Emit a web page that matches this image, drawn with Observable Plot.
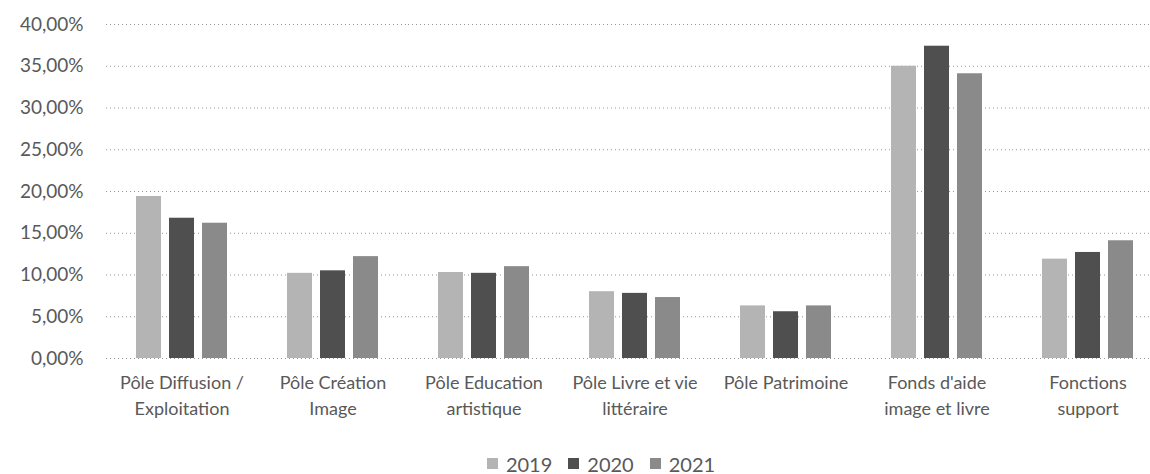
<!DOCTYPE html>
<html>
<head>
<meta charset="utf-8">
<script src="https://cdn.jsdelivr.net/npm/d3@7"></script>
<script src="https://cdn.jsdelivr.net/npm/@observablehq/plot@0.6"></script>
<style>
  html, body { margin: 0; padding: 0; background: white; }
  #chart svg { display: block; }
  .legend { display: flex; justify-content: center; align-items: center; font-family: Lato, "Open Sans", sans-serif; font-size: 20px; color: #595959; height: 29px; padding-left: 52px; padding-top: 4px; }
  .legend span.item { display: inline-flex; align-items: center; margin: 0 8px; }
  .legend span.sw { width: 11px; height: 11px; display: inline-block; margin-right: 8px; }
</style>
</head>
<body>
<div id="chart"></div>
<script>
const categories = ["Diffusion", "Creation", "Education", "Livre", "Patrimoine", "Fonds", "Support"];
const categoryLabels = [
  "Pôle Diffusion /\nExploitation",
  "Pôle Création\nImage",
  "Pôle Education\nartistique",
  "Pôle Livre et vie\nlittéraire",
  "Pôle Patrimoine",
  "Fonds d'aide\nimage et livre",
  "Fonctions\nsupport"
];
const years = ["2019", "2020", "2021"];
const values2019 = [19.4, 10.2, 10.3, 8.0, 6.3, 35.0, 11.9];
const values2020 = [16.8, 10.5, 10.2, 7.8, 5.6, 37.4, 12.7];
const values2021 = [16.2, 12.2, 11.0, 7.3, 6.3, 34.1, 14.1];
const yTicks = [0, 5, 10, 15, 20, 25, 30, 35, 40];
const yearColors = ["#b4b4b4", "#4f4f4f", "#8a8a8a"];

const series = [values2019, values2020, values2021];
const data = [];
categories.forEach((c, i) => {
  years.forEach((y, j) => data.push({category: c, year: y, value: series[j][i]}));
});
const labelOf = new Map(categories.map((c, i) => [c, categoryLabels[i]]));
const pct = d => d.toFixed(2).replace(".", ",") + "%";

const chart = Plot.plot({
  width: 1150,
  height: 445,
  marginLeft: 103,
  marginRight: 0,
  marginTop: 24,
  marginBottom: 87,
  style: {fontFamily: "Lato, 'Open Sans', sans-serif", fontSize: "16px", color: "#595959", background: "white"},
  fx: {domain: categories, range: [103, 1166], padding: 0, label: null},
  x: {domain: years, paddingInner: 0.235, paddingOuter: 0.85, axis: null},
  y: {domain: [0, 40], label: null},
  color: {domain: years, range: yearColors},
  marks: [
    Plot.gridY(yTicks, {stroke: "#8a8a8a", strokeOpacity: 0.9, strokeDasharray: "1,3"}),
    Plot.barY(data, {fx: "category", x: "year", y: "value", fill: "year"}),
    Plot.axisY(yTicks, {tickSize: 0, tickPadding: 23, tickFormat: pct, label: null, fontSize: 19, fill: "#595959"}),
    Plot.axisFx({anchor: "bottom", tickSize: 0, tickPadding: 13, label: null, tickFormat: d => labelOf.get(d), fontSize: 18, lineHeight: 1.4, fill: "#595959"})
  ]
});
document.getElementById("chart").appendChild(chart);

const legend = document.createElement("div");
legend.className = "legend";
years.forEach((y, i) => {
  const item = document.createElement("span");
  item.className = "item";
  const sw = document.createElement("span");
  sw.className = "sw";
  sw.style.background = yearColors[i];
  item.appendChild(sw);
  item.appendChild(document.createTextNode(y));
  legend.appendChild(item);
});
document.body.appendChild(legend);
</script>
</body>
</html>
